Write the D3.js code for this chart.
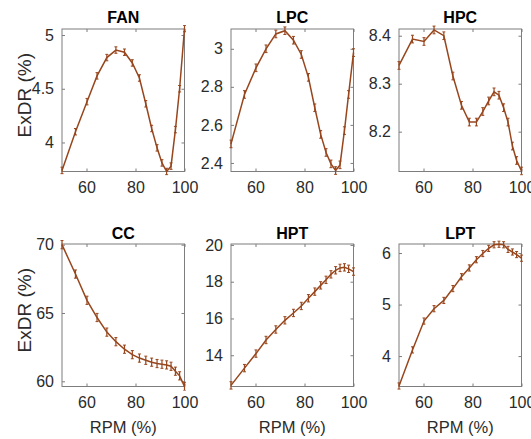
<!DOCTYPE html>
<html>
<head>
<meta charset="utf-8">
<script src="https://cdn.jsdelivr.net/npm/d3@7"></script>
<style>
  body { margin: 0; background: #fff; }
  svg { display: block; font-family: Arial, "Liberation Sans", sans-serif; }
</style>
</head>
<body>
<figure style="margin:0"></figure>
<script>
// shared x values (RPM %)
const rpm = [50, 55.5, 60.2, 64.3, 68.3, 72, 75.5, 78.7, 81.6, 84.2, 86.6, 88.8, 90.8, 92.7, 94.5, 96.3, 98, 100];

// ExDR (%) per component
const fanExdr = [3.74, 4.10, 4.38, 4.62, 4.79, 4.86, 4.84, 4.74, 4.60, 4.36, 4.13, 3.95, 3.81, 3.73, 3.78, 4.12, 4.50, 5.06];
const lpcExdr = [2.50, 2.76, 2.90, 3.00, 3.078, 3.095, 3.045, 2.97, 2.85, 2.69, 2.55, 2.455, 2.395, 2.36, 2.39, 2.57, 2.76, 2.98];
const hpcExdr = [8.338, 8.393, 8.388, 8.412, 8.40, 8.316, 8.255, 8.22, 8.22, 8.242, 8.264, 8.283, 8.276, 8.25, 8.22, 8.17, 8.14, 8.118];
const ccExdr = [70.0, 67.85, 65.93, 64.67, 63.6, 62.9, 62.35, 61.95, 61.7, 61.54, 61.4, 61.3, 61.25, 61.2, 61.1, 60.74, 60.4, 59.63];
const hptExdr = [12.36, 13.3, 14.09, 14.83, 15.4, 15.9, 16.3, 16.68, 17.1, 17.46, 17.8, 18.1, 18.4, 18.62, 18.75, 18.78, 18.7, 18.55];
const lptExdr = [3.42, 4.12, 4.68, 4.92, 5.08, 5.31, 5.54, 5.71, 5.87, 5.99, 6.09, 6.16, 6.17, 6.16, 6.07, 6.02, 5.97, 5.9];

// error bar half-heights, one per panel
const errHalf = [0.03, 0.02, 0.008, 0.3, 0.2, 0.06];

const titles = ['FAN', 'LPC', 'HPC', 'CC', 'HPT', 'LPT'];
const yDomains = [[3.73, 5.056], [2.355, 3.104], [8.117, 8.414], [59.62, 70.05], [12.3, 20.05], [3.41, 6.175]];
const yTicks = [[4, 4.5, 5], [2.4, 2.6, 2.8, 3], [8.2, 8.3, 8.4], [60, 65, 70], [14, 16, 18, 20], [4, 5, 6]];
const xTicks = [60, 80, 100];
const series = [fanExdr, lpcExdr, hpcExdr, ccExdr, hptExdr, lptExdr];

(() => {
  const totalWidth = 531;
  const totalHeight = 439;
  const colLeft = [62, 231, 399];
  const rowTop = [29, 244];
  const plotW = 122.5;
  const plotH = 142.5;
  const lineColor = '#97461d';
  const axisColor = '#7d7d7d';
  const textColor = '#2b2b2b';
  const fmt = d => String(d);

  const svg = d3.select('figure').append('svg')
    .attr('width', totalWidth)
    .attr('height', totalHeight);

  const x = d3.scaleLinear().domain([50, 100]).range([0, plotW]);

  series.forEach((vals, i) => {
    const col = i % 3;
    const row = Math.floor(i / 3);
    const g = svg.append('g')
      .attr('transform', 'translate(' + colLeft[col] + ',' + rowTop[row] + ')');

    const y = d3.scaleLinear().domain(yDomains[i]).range([plotH, 0]);

    // bottom axis with inward ticks
    const xa = g.append('g')
      .attr('transform', 'translate(0,' + plotH + ')')
      .call(d3.axisBottom(x).tickValues(xTicks).tickFormat(fmt).tickSize(-3).tickPadding(10).tickSizeOuter(0));
    xa.select('.domain').remove();
    xa.selectAll('line').attr('stroke', axisColor);
    xa.selectAll('text').attr('fill', textColor).attr('font-size', 16).attr('dy', '0.71em');

    // top ticks
    g.append('g')
      .call(d3.axisTop(x).tickValues(xTicks).tickSize(-3).tickFormat('').tickSizeOuter(0))
      .call(a => a.select('.domain').remove())
      .selectAll('line').attr('stroke', axisColor);

    const ya = g.append('g')
      .call(d3.axisLeft(y).tickValues(yTicks[i]).tickFormat(fmt).tickSize(-3).tickPadding(8).tickSizeOuter(0));
    ya.select('.domain').remove();
    ya.selectAll('line').attr('stroke', axisColor);
    ya.selectAll('text').attr('fill', textColor).attr('font-size', 16);

    g.append('g')
      .attr('transform', 'translate(' + plotW + ',0)')
      .call(d3.axisRight(y).tickValues(yTicks[i]).tickSize(-3).tickFormat('').tickSizeOuter(0))
      .call(a => a.select('.domain').remove())
      .selectAll('line').attr('stroke', axisColor);

    // box
    g.append('rect')
      .attr('width', plotW)
      .attr('height', plotH)
      .attr('fill', 'none')
      .attr('stroke', axisColor)
      .attr('stroke-width', 1);

    const pts = vals.map((v, k) => ({rpm: rpm[k], v: v}));

    const line = d3.line()
      .x(d => x(d.rpm))
      .y(d => y(d.v));

    const clip = 'clip' + i;
    g.append('clipPath').attr('id', clip)
      .append('rect').attr('x', -3).attr('y', -4).attr('width', plotW + 6).attr('height', plotH + 8);

    const plot = g.append('g').attr('clip-path', 'url(#' + clip + ')');

    plot.append('path')
      .datum(pts)
      .attr('fill', 'none')
      .attr('stroke', lineColor)
      .attr('stroke-width', 1.5)
      .attr('d', line);

    const eb = plot.selectAll('.eb').data(pts).join('g').attr('class', 'eb');
    eb.append('line')
      .attr('x1', d => x(d.rpm)).attr('x2', d => x(d.rpm))
      .attr('y1', d => y(d.v - errHalf[i])).attr('y2', d => y(d.v + errHalf[i]))
      .attr('stroke', lineColor).attr('stroke-width', 1.2);
    eb.append('line')
      .attr('x1', d => x(d.rpm) - 1.5).attr('x2', d => x(d.rpm) + 1.5)
      .attr('y1', d => y(d.v + errHalf[i])).attr('y2', d => y(d.v + errHalf[i]))
      .attr('stroke', lineColor).attr('stroke-width', 1);
    eb.append('line')
      .attr('x1', d => x(d.rpm) - 1.5).attr('x2', d => x(d.rpm) + 1.5)
      .attr('y1', d => y(d.v - errHalf[i])).attr('y2', d => y(d.v - errHalf[i]))
      .attr('stroke', lineColor).attr('stroke-width', 1);

    g.append('text')
      .attr('x', plotW / 2)
      .attr('y', row === 0 ? -6 : -5)
      .attr('text-anchor', 'middle')
      .attr('font-weight', 'bold')
      .attr('font-size', 16)
      .attr('fill', '#000')
      .text(titles[i]);

    if (col === 0) {
      g.append('text')
        .attr('transform', 'translate(-31,' + (plotH / 2 - 5) + ') rotate(-90)')
        .attr('text-anchor', 'middle')
        .attr('font-size', 19)
        .attr('fill', textColor)
        .text('ExDR (%)');
    }
    if (row === 1) {
      g.append('text')
        .attr('x', plotW / 2)
        .attr('y', plotH + 46)
        .attr('text-anchor', 'middle')
        .attr('font-size', 16.5)
        .attr('fill', textColor)
        .text('RPM (%)');
    }
  });
})();
</script>
</body>
</html>
